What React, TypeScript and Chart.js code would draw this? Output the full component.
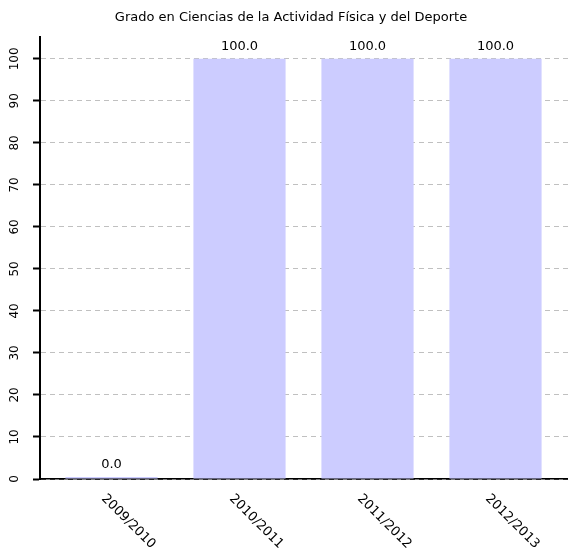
import React, { useEffect, useRef } from "react";
import { Chart, registerables } from "chart.js";

Chart.register(...registerables);

const TITLE = "Grado en Ciencias de la Actividad Física y del Deporte";
const categories = ["2009/2010", "2010/2011", "2011/2012", "2012/2013"];
const values = [0.0, 100.0, 100.0, 100.0];
const yTicks = [0, 10, 20, 30, 40, 50, 60, 70, 80, 90, 100];
const Y_MAX = 105.2;

const FONT = "DejaVu Sans";

const labelsPlugin = {
  id: "customLabels",
  afterDraw(chart: any) {
    const ctx = chart.ctx as CanvasRenderingContext2D;
    const meta = chart.getDatasetMeta(0);
    const xScale = chart.scales.x;
    const yScale = chart.scales.y;
    ctx.save();
    ctx.fillStyle = "#000";
    // title
    ctx.font = `13px "${FONT}"`;
    ctx.textAlign = "center";
    ctx.textBaseline = "middle";
    ctx.fillText(TITLE, 291, 18);
    // value labels
    meta.data.forEach((bar: any, i: number) => {
      ctx.textAlign = "center";
      ctx.textBaseline = "bottom";
      ctx.fillText(values[i].toFixed(1), bar.x, Math.min(bar.y, yScale.getPixelForValue(0) - 2) - 6);
    });
    // x labels rotated +45
    categories.forEach((c, i) => {
      const x = xScale.getPixelForValue(i);
      const y0 = yScale.getPixelForValue(0);
      ctx.save();
      ctx.translate(x - 10.5, y0 + 20);
      ctx.rotate(Math.PI / 4);
      ctx.textAlign = "left";
      ctx.textBaseline = "alphabetic";
      ctx.fillText(c, 0, 0);
      ctx.restore();
    });
    // y labels rotated
    ctx.font = `12px "${FONT}"`;
    yTicks.forEach((v) => {
      const y = yScale.getPixelForValue(v);
      ctx.save();
      ctx.translate(15, y);
      ctx.rotate(-Math.PI / 2);
      ctx.textAlign = "center";
      ctx.textBaseline = "middle";
      ctx.fillText(String(v), 0, 0);
      ctx.restore();
    });
    ctx.restore();
  },
};

export default function App() {
  const ref = useRef<HTMLCanvasElement>(null);
  useEffect(() => {
    const canvas = ref.current!;
    const chart = new Chart(canvas, {
      type: "bar",
      data: {
        datasets: [
          {
            data: values.map((v, i) => ({ x: i, y: v })),
            backgroundColor: "#ccccff",
            borderWidth: 0,
            minBarLength: 2,
          },
        ],
      },
      options: {
        animation: false,
        responsive: false,
        maintainAspectRatio: false,
        layout: { padding: { top: 37, left: 0, right: 0, bottom: 0 } },
        plugins: {
          legend: { display: false },
          title: { display: false },
          tooltip: { enabled: false },
        },
        scales: {
          x: {
            type: "linear",
            offset: false,
            min: -71.5 / 128,
            max: -71.5 / 128 + 528 / 128,
            afterBuildTicks: (s: any) => {
              s.ticks = categories.map((_, i) => ({ value: i }));
            },
            afterFit: (s: any) => {
              s.height = 73;
            },
            ticks: { display: false },
            grid: { display: false },
            border: { display: true, color: "#000", width: 1.5 },
          },
          y: {
            min: 0,
            max: Y_MAX,
            afterBuildTicks: (s: any) => {
              s.ticks = yTicks.map((v) => ({ value: v }));
            },
            afterFit: (s: any) => {
              s.width = 40;
            },
            ticks: { display: false },
            grid: {
              color: (c: any) => (c.tick && c.tick.value === 0 ? "#555" : "#c0c0c0"),
              lineWidth: 1,
              drawTicks: true,
              tickLength: 7,
              tickColor: "#000",
              tickWidth: 2,
              tickBorderDash: [],
            } as any,
            border: { display: true, color: "#000", width: 2, dash: [5, 4] },
          },
        },
      } as any,
      plugins: [labelsPlugin],
    });
    return () => chart.destroy();
  }, []);
  return (
    <div style={{ position: "absolute", left: 0, top: 0, width: 568, height: 552, background: "#fff" }}>
      <canvas ref={ref} width={568} height={552} style={{ display: "block" }} />
    </div>
  );
}
